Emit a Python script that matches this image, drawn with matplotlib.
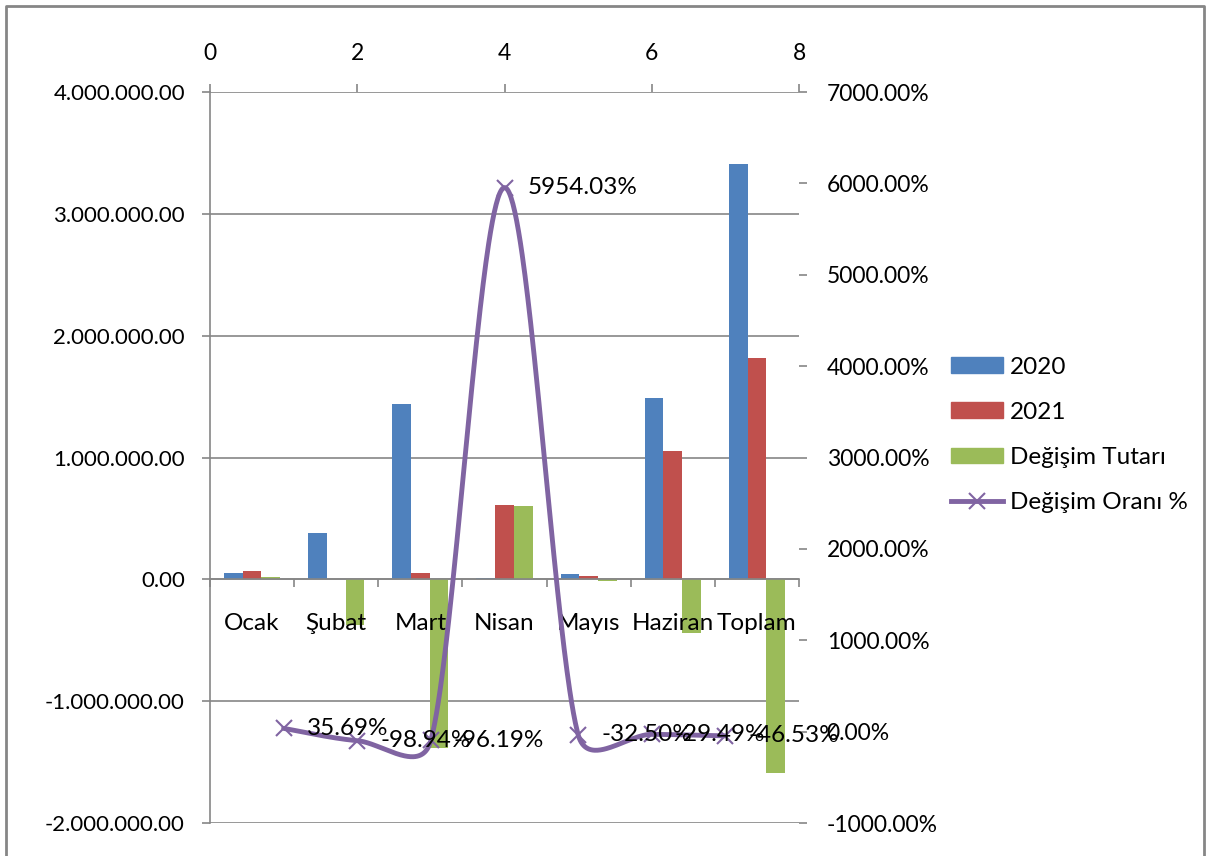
import numpy as np
import matplotlib
matplotlib.use("Agg")
import matplotlib.pyplot as plt
from matplotlib.patches import Patch
from matplotlib.lines import Line2D

plt.rcParams['font.family'] = ['Lato', 'DejaVu Sans']

# veriler
aylar = ["Ocak", "Şubat", "Mart", "Nisan", "Mayıs", "Haziran", "Toplam"]
y2020 = [52000, 378000, 1440000, 10100, 41000, 1490000, 3411100]
y2021 = [70560, 4007, 54864, 611457, 27675, 1050599, 1819162]
degisim_tutari = [18560, -373993, -1385136, 601357, -13325, -439401, -1591938]
oran_x = [1, 2, 3, 4, 5, 6, 7]
degisim_orani = [35.69, -98.94, -96.19, 5954.03, -32.50, -29.49, -46.53]
oran_etiket = ["35.69%", "-98.94%", "-96.19%", "5954.03%", "-32.50%", "-29.49%", "-46.53%"]

mavi, kirmizi, yesil, mor = "#4F81BD", "#C0504D", "#9BBB59", "#8064A2"
gri = "#868686"
fs = 17.5      # yazılar
fs_sayi = 16   # eksen sayıları

fig = plt.figure(figsize=(12.08, 8.56), dpi=100)
rect = [210 / 1208, 1 - 823 / 856, 589 / 1208, 731 / 856]
ax = fig.add_axes(rect)
ax2 = fig.add_axes(rect, frameon=False)

# sütunlar
w = 1 / 4.5
x = np.arange(len(aylar)) + 0.5
ax.bar(x - w, y2020, w, color=mavi, zorder=3)
ax.bar(x, y2021, w, color=kirmizi, zorder=3)
ax.bar(x + w, degisim_tutari, w, color=yesil, zorder=3)

ax.set_xlim(0, 7)
ax.set_ylim(-2000000, 4000000)
ax.set_yticks(np.arange(-2000000, 4000001, 1000000))
ax.set_yticklabels([f"{v:,.2f}".replace(",", ".") for v in np.arange(-2000000, 4000001, 1000000)])
ax.grid(axis='y', color=gri, lw=1.2, zorder=0)
ax.tick_params(axis='y', length=6, width=1.2, color=gri, pad=12, labelsize=fs_sayi)

ax.spines['bottom'].set_position(('data', 0))
for s in ['top', 'right']:
    ax.spines[s].set_visible(False)
for s in ['left', 'bottom']:
    ax.spines[s].set_color(gri)
    ax.spines[s].set_linewidth(1.2)
ax.spines['bottom'].set_zorder(4)
ax.set_xticks([])
ax.set_xticks(np.arange(0, 8), minor=True)
ax.tick_params(axis='x', which='minor', length=6, width=1.2, color=gri)
# kategori etiketleri sütunların üstünde
for xi, ad in zip(x, aylar):
    ax.annotate(ad, (xi, 0), xytext=(0, -44), textcoords='offset pixels',
                ha='center', va='center', fontsize=fs, zorder=10)

# değişim oranı ekseni
ax2.set_xlim(0, 8)
ax2.set_ylim(-1000, 7000)
ax2.xaxis.tick_top()
ax2.yaxis.tick_right()
ax2.set_xticks([0, 2, 4, 6, 8])
ax2.set_yticks(np.arange(-1000, 7001, 1000))
ax2.set_yticklabels([f"{v:.2f}%" for v in np.arange(-1000, 7001, 1000)])
ax2.tick_params(axis='x', length=6, width=1.2, color=gri, pad=14, labelsize=fs_sayi + 0.5)
ax2.tick_params(axis='y', length=6, width=1.2, color=gri, pad=14, labelsize=fs_sayi + 0.5)
ax2.spines['top'].set_visible(True)
ax2.spines['right'].set_visible(True)
for s in ['top', 'right']:
    ax2.spines[s].set_color(gri)
    ax2.spines[s].set_linewidth(1.2)

# Excel tarzı yumuşatılmış çizgi
P = ax2.transData.transform(np.column_stack([oran_x, degisim_orani]))
n = len(P)
egri = []
t = np.linspace(0, 1, 80)[:, None]
for i in range(n - 1):
    p0 = P[i - 1] if i > 0 else P[i]
    p1, p2 = P[i], P[i + 1]
    p3 = P[i + 2] if i + 2 < n else P[i + 1]
    d12 = np.hypot(*(p2 - p1))
    d02 = np.hypot(*(p2 - p0))
    d13 = np.hypot(*(p3 - p1))
    f1 = 1 / 6 if d02 / 6 < d12 / 2 else d12 / (2 * d02)
    f2 = 1 / 6 if d13 / 6 < d12 / 2 else d12 / (2 * d13)
    c1 = p1 + (p2 - p0) * f1
    c2 = p2 - (p3 - p1) * f2
    seg = (1 - t) ** 3 * p1 + 3 * (1 - t) ** 2 * t * c1 + 3 * (1 - t) * t ** 2 * c2 + t ** 3 * p2
    egri.append(seg)
egri = ax2.transData.inverted().transform(np.vstack(egri))
ax2.plot(egri[:, 0], egri[:, 1], color=mor, lw=3.5, solid_capstyle='round', zorder=5)
ax2.plot(oran_x, degisim_orani, 'x', color=mor, ms=12, mew=1.5, zorder=6)
for xi, yi, et in zip(oran_x, degisim_orani, oran_etiket):
    ax2.annotate(et, (xi, yi), xytext=(23, 0), textcoords='offset pixels',
                 va='center', ha='left', fontsize=fs, zorder=7)

# gösterge
handles = [Patch(color=mavi), Patch(color=kirmizi), Patch(color=yesil),
           Line2D([0], [0], color=mor, lw=3.5, marker='x', ms=12, mew=1.5)]
fig.legend(handles, ["2020", "2021", "Değişim Tutarı", "Değişim Oranı %"],
           loc='center left', bbox_to_anchor=(951 / 1208, 1 - 435 / 856),
           frameon=False, fontsize=fs, handlelength=2.15, handleheight=0.62,
           handletextpad=0.28, labelspacing=1.0, borderpad=0, borderaxespad=0)

# grafik çerçevesi
fig.add_artist(Line2D([6 / 1208, 6 / 1208, 1204 / 1208, 1204 / 1208],
                      [0, 1 - 6 / 856, 1 - 6 / 856, 0], color=gri, lw=2))

fig.savefig("out.png", dpi=100)
